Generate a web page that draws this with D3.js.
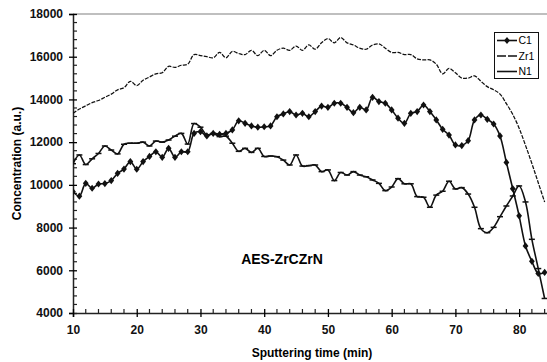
<!DOCTYPE html>
<html>
<head>
<meta charset="utf-8">
<script src="https://cdn.jsdelivr.net/npm/d3@7"></script>
<style>
  body { margin: 0; background: #fff; }
  text { font-family: "Liberation Sans", Arial, sans-serif; }
</style>
</head>
<body>
<div id="chart"></div>
<script>
// sputtering time, one reading per minute
const times = d3.range(10, 85);

const c1 = [9680, 9470, 10070, 9840, 10040, 10060, 10200, 10540, 10740, 11090,
  10730, 11090, 11330, 11550, 11290, 11710, 11290, 11550, 11550, 12410,
  12490, 12290, 12410, 12370, 12410, 12570, 13000, 12880, 12760, 12700,
  12720, 12760, 13190, 13320, 13430, 13270, 13350, 13190, 13430, 13690,
  13630, 13820, 13820, 13630, 13380, 13630, 13510, 14100, 13900, 13820,
  13510, 13120, 12880, 13350, 13430, 13740, 13430, 13040, 12600, 12330,
  11870, 11840, 12070, 13040, 13270, 13070, 12850, 12290, 11050, 9820,
  8550, 7140, 6420, 5850, 5900];

const zr1 = [13350, 13550, 13700, 13850, 13950, 14100, 14250, 14450, 14550, 14850,
  14650, 14900, 15050, 15200, 15250, 15550, 15500, 15600, 15650, 16100,
  16050, 16000, 15950, 16200, 15950, 16250, 16150, 16100, 16300, 16050,
  16300, 16050, 16300, 16400, 16300, 16500, 16300, 16550, 16350, 16650,
  16850, 16650, 16900, 16650, 16550, 16400, 16350, 16550, 16600, 16400,
  16200, 16200, 16100, 16100, 15900, 15850, 15850, 15650, 15200, 15450,
  15250, 15000, 15000, 15100, 14850, 14600, 14450, 14250, 13800, 13300,
  12650, 11850, 11000, 10100, 9200];

const n1 = [10990, 11400, 10950, 11220, 11470, 11820, 11630, 11450, 11900, 11950,
  11950, 12000, 11820, 12050, 12000, 12100, 12280, 12410, 11910, 12870,
  12700, 12330, 12410, 12260, 12280, 11950, 11570, 11710, 11520, 11710,
  11330, 11350, 11320, 11160, 10930, 11400, 10880, 10900, 10930, 10620,
  10700, 10200, 10580, 10460, 10620, 10460, 10380, 10230, 10070, 9730,
  9900, 10290, 10050, 10050, 9450, 9420, 8950, 9520, 9700, 10170,
  9810, 9870, 9570, 8950, 7950, 7760, 8010, 8510, 9010, 9480,
  9950, 9200, 7450, 6080, 4680];

const seriesNames = ["C1", "Zr1", "N1"];
const xTicks = [10, 20, 30, 40, 50, 60, 70, 80];
const yTicks = [4000, 6000, 8000, 10000, 12000, 14000, 16000, 18000];

const W = 547, H = 362;
const margin = { top: 14, left: 73, bottom: 49 };

const svg = d3.select("#chart").append("svg")
  .attr("width", W)
  .attr("height", H);

const x = d3.scaleLinear().domain([10, 85]).range([margin.left, 551]);
const y = d3.scaleLinear().domain([4000, 18000]).range([H - margin.bottom, margin.top]);

svg.append("clipPath").attr("id", "plot")
  .append("rect")
  .attr("x", margin.left).attr("y", margin.top - 2)
  .attr("width", W - margin.left).attr("height", y(4000) - margin.top + 2);

// top border of plot area
svg.append("line")
  .attr("x1", margin.left).attr("x2", W)
  .attr("y1", margin.top).attr("y2", margin.top)
  .attr("stroke", "#808080").attr("stroke-width", 1.2);

// minor ticks (inside)
const yMinor = d3.range(4000, 18001, 400).filter(v => v % 2000 !== 0);
svg.append("g").selectAll("line").data(yMinor).enter().append("line")
  .attr("x1", margin.left).attr("x2", margin.left + 4)
  .attr("y1", d => y(d)).attr("y2", d => y(d))
  .attr("stroke", "#222").attr("stroke-width", 1.2);

const xMinor = d3.range(10, 85, 2).filter(v => v % 10 !== 0);
svg.append("g").selectAll("line").data(xMinor).enter().append("line")
  .attr("x1", d => x(d)).attr("x2", d => x(d))
  .attr("y1", y(4000)).attr("y2", y(4000) - 4)
  .attr("stroke", "#222").attr("stroke-width", 1.2);

// Y axis
const yAxis = svg.append("g")
  .attr("transform", `translate(${margin.left},0)`)
  .call(d3.axisLeft(y).tickValues(yTicks).tickFormat(d3.format("d")).tickSize(4).tickPadding(6));
yAxis.selectAll(".tick line").attr("x2", 4).attr("x1", -4).attr("stroke-width", 1.3);
yAxis.select(".domain").attr("stroke-width", 1.5).attr("stroke", "#222");
yAxis.selectAll("text")
  .attr("x", -10)
  .style("font-size", "12px").style("font-weight", "bold").attr("fill", "#111");

// X axis
const xAxis = svg.append("g")
  .attr("transform", `translate(0,${y(4000)})`)
  .call(d3.axisBottom(x).tickValues(xTicks).tickFormat(d3.format("d")).tickSize(4).tickPadding(6));
xAxis.selectAll(".tick line").attr("y1", -4).attr("y2", 4).attr("stroke-width", 1.3);
xAxis.select(".domain").attr("stroke-width", 1.5).attr("stroke", "#222");
xAxis.selectAll("text")
  .attr("y", 12)
  .style("font-size", "12px").style("font-weight", "bold").attr("fill", "#111");

// Axis titles
svg.append("text")
  .attr("x", (margin.left + 551) / 2)
  .attr("y", 357)
  .attr("text-anchor", "middle")
  .style("font-size", "12px").style("font-weight", "bold")
  .text("Sputtering time (min)");

svg.append("text")
  .attr("transform", `translate(21,${(margin.top + y(4000)) / 2}) rotate(-90)`)
  .attr("text-anchor", "middle")
  .style("font-size", "12px").style("font-weight", "bold")
  .text("Concentration (a.u.)");

svg.append("text")
  .attr("x", 282)
  .attr("y", 264)
  .attr("text-anchor", "middle")
  .style("font-size", "14px").style("font-weight", "bold")
  .text("AES-ZrCZrN");

// Series
const line = d3.line()
  .x((d, i) => x(times[i]))
  .y(d => y(d))
  .curve(d3.curveCatmullRom.alpha(0.5));

const plot = svg.append("g").attr("clip-path", "url(#plot)");

plot.append("path").datum(zr1)
  .attr("d", line)
  .attr("fill", "none").attr("stroke", "#111")
  .attr("stroke-width", 1.25).attr("stroke-dasharray", "4,1.3");

plot.append("path").datum(n1)
  .attr("d", line)
  .attr("fill", "none").attr("stroke", "#111").attr("stroke-width", 1.6);

plot.append("g").selectAll("line").data(n1).enter().append("line")
  .attr("x1", (d, i) => x(times[i]) - 3).attr("x2", (d, i) => x(times[i]) + 3)
  .attr("y1", d => y(d)).attr("y2", d => y(d))
  .attr("stroke", "#111").attr("stroke-width", 1.5);

plot.append("path").datum(c1)
  .attr("d", line)
  .attr("fill", "none").attr("stroke", "#111").attr("stroke-width", 1.6);

const diamond = "M0,-3.6L2.9,0L0,3.6L-2.9,0Z";
plot.append("g").selectAll("path").data(c1).enter().append("path")
  .attr("d", diamond)
  .attr("transform", (d, i) => `translate(${x(times[i])},${y(d)})`)
  .attr("fill", "#111");

// Legend
const legend = svg.append("g").attr("transform", "translate(494.5,32.5)");
legend.append("rect")
  .attr("width", 44).attr("height", 46)
  .attr("fill", "#fff").attr("stroke", "#111").attr("stroke-width", 1);

seriesNames.forEach((name, i) => {
  const ly = 8 + i * 15.5;
  const g = legend.append("g").attr("transform", `translate(0,${ly})`);
  const ln = g.append("line")
    .attr("x1", 2.5).attr("x2", 22.5)
    .attr("stroke", "#111").attr("stroke-width", name === "Zr1" ? 1.3 : 1.6);
  if (name === "Zr1") ln.attr("stroke-dasharray", "9,2");
  if (name === "C1") g.append("path").attr("d", diamond).attr("transform", "translate(12.5,0)").attr("fill", "#111");
  g.append("text")
    .attr("x", 24).attr("y", 0).attr("dy", "0.35em")
    .style("font-size", "10.5px")
    .text(name);
});
</script>
</body>
</html>
